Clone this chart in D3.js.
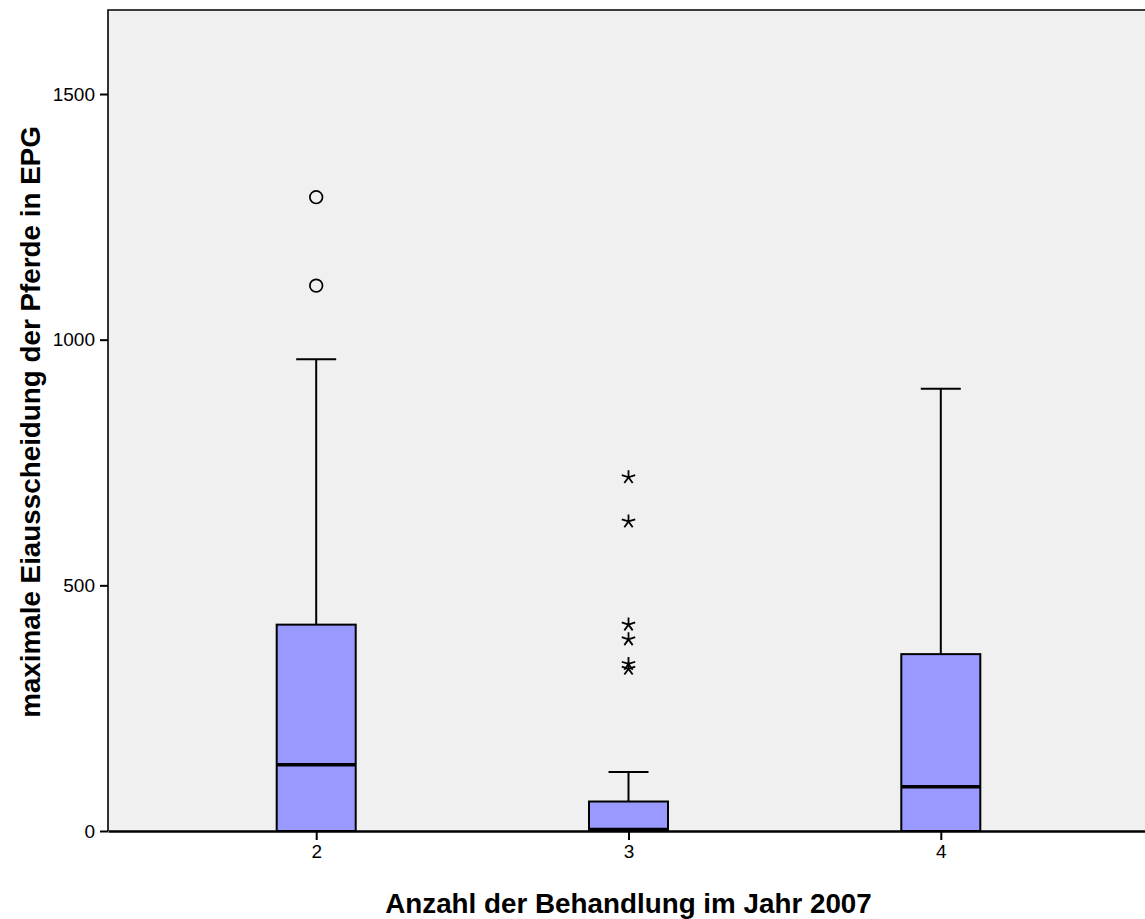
<!DOCTYPE html>
<html>
<head>
<meta charset="utf-8">
<script src="https://cdn.jsdelivr.net/npm/d3@7"></script>
<style>
  body { margin: 0; background: #fff; }
  text { font-family: "Liberation Sans", Arial, sans-serif; }
</style>
</head>
<body>
<div id="chart"></div>
<script>
// data
var categories = ["2", "3", "4"];
var q1 = [0, 0, 0];
var medians = [135, 3, 90];
var q3 = [420, 60, 360];
var whiskLo = [0, 0, 0];
var whiskHi = [960, 120, 900];
var outliersCircle = [[1290, 1110], [], []];
var outliersStar = [[], [720, 630, 420, 390, 340, 330], []];
var yTicks = [0, 500, 1000, 1500];

var W = 1145, H = 919;
var margin = {top: 10, right: -4, bottom: 88, left: 108};
var width = W - margin.left - margin.right,
    height = H - margin.top - margin.bottom;

var svg = d3.select("#chart").append("svg")
    .attr("width", W).attr("height", H);

var g = svg.append("g")
    .attr("transform", "translate(" + margin.left + "," + margin.top + ")");

var x = d3.scalePoint().domain(categories).range([0, width]).padding(2 / 3);
var y = d3.scaleLinear().domain([0, 1671]).range([height, 0]);

g.append("rect")
    .attr("width", width).attr("height", height)
    .style("fill", "#f0f0f0");

// top + left frame
g.append("path")
    .attr("d", "M0," + height + "V0H" + width)
    .attr("fill", "none").attr("stroke", "#000").attr("stroke-width", 1.6);

// 5-spoke asterisk for extreme values
var star5 = {
  draw: function(ctx, size) {
    var r = Math.sqrt(size) / 2;
    for (var k = 0; k < 5; k++) {
      var a = -Math.PI / 2 + k * 2 * Math.PI / 5;
      ctx.moveTo(0, 0);
      ctx.lineTo(r * Math.cos(a), r * Math.sin(a));
    }
  }
};

var boxW = 79, capW = 40;
var data = categories.map(function(c, i) {
  return {cat: c, q1: q1[i], med: medians[i], q3: q3[i], lo: whiskLo[i], hi: whiskHi[i],
          circ: outliersCircle[i], star: outliersStar[i]};
});

var box = g.selectAll(".box").data(data).enter().append("g")
    .attr("class", "box")
    .attr("transform", function(d) { return "translate(" + x(d.cat) + ",0)"; });

// whiskers
box.append("line")
    .attr("x1", 0).attr("x2", 0)
    .attr("y1", function(d) { return y(d.q3); })
    .attr("y2", function(d) { return y(d.hi); })
    .attr("stroke", "#000").attr("stroke-width", 2);
box.append("line")
    .attr("x1", -capW / 2).attr("x2", capW / 2)
    .attr("y1", function(d) { return y(d.hi); })
    .attr("y2", function(d) { return y(d.hi); })
    .attr("stroke", "#000").attr("stroke-width", 2);

box.append("rect")
    .attr("x", -boxW / 2).attr("width", boxW)
    .attr("y", function(d) { return y(d.q3); })
    .attr("height", function(d) { return y(d.q1) - y(d.q3); })
    .style("fill", "#9999ff").style("stroke", "#000").style("stroke-width", 2);

box.append("line")
    .attr("x1", -boxW / 2).attr("x2", boxW / 2)
    .attr("y1", function(d) { return y(d.med); })
    .attr("y2", function(d) { return y(d.med); })
    .attr("stroke", "#000").attr("stroke-width", 3.5);

// outliers
box.selectAll(".circ").data(function(d) { return d.circ; }).enter().append("circle")
    .attr("class", "circ")
    .attr("cx", 0).attr("cy", function(v) { return y(v); })
    .attr("r", 6.3)
    .attr("fill", "none").attr("stroke", "#000").attr("stroke-width", 1.7);

box.selectAll(".star").data(function(d) { return d.star; }).enter().append("path")
    .attr("class", "star")
    .attr("transform", function(v) { return "translate(0," + y(v) + ")"; })
    .attr("d", d3.symbol().type(star5).size(200))
    .attr("fill", "none").attr("stroke", "#000").attr("stroke-width", 1.8);

// axes
var yAxis = d3.axisLeft(y).tickValues(yTicks).tickSize(8).tickPadding(5)
    .tickFormat(d3.format("d"));
var gy = g.append("g").attr("class", "axis").call(yAxis);
gy.select(".domain").remove();
gy.selectAll(".tick line").attr("stroke-width", 2);
gy.selectAll(".tick text").style("font-size", "19px").attr("fill", "#000")
    .style("font-family", "'Liberation Sans', Arial, sans-serif");

var xAxis = d3.axisBottom(x).tickSize(9).tickSizeOuter(0).tickPadding(5);
var gx = g.append("g").attr("class", "axis")
    .attr("transform", "translate(0," + height + ")").call(xAxis);
gx.select(".domain").attr("stroke-width", 2.4);
gx.selectAll(".tick line").attr("stroke-width", 2);
gx.selectAll(".tick text").style("font-size", "19px").attr("fill", "#000")
    .style("font-family", "'Liberation Sans', Arial, sans-serif");

// titles
svg.append("text")
    .attr("x", margin.left + x("3")).attr("y", 913)
    .attr("text-anchor", "middle")
    .style("font-size", "27.8px").style("font-weight", "bold")
    .text("Anzahl der Behandlung im Jahr 2007");

svg.append("text")
    .attr("transform", "translate(40,422) rotate(-90)")
    .attr("text-anchor", "middle")
    .style("font-size", "27.8px").style("font-weight", "bold")
    .text("maximale Eiausscheidung der Pferde in EPG");
</script>
</body>
</html>
